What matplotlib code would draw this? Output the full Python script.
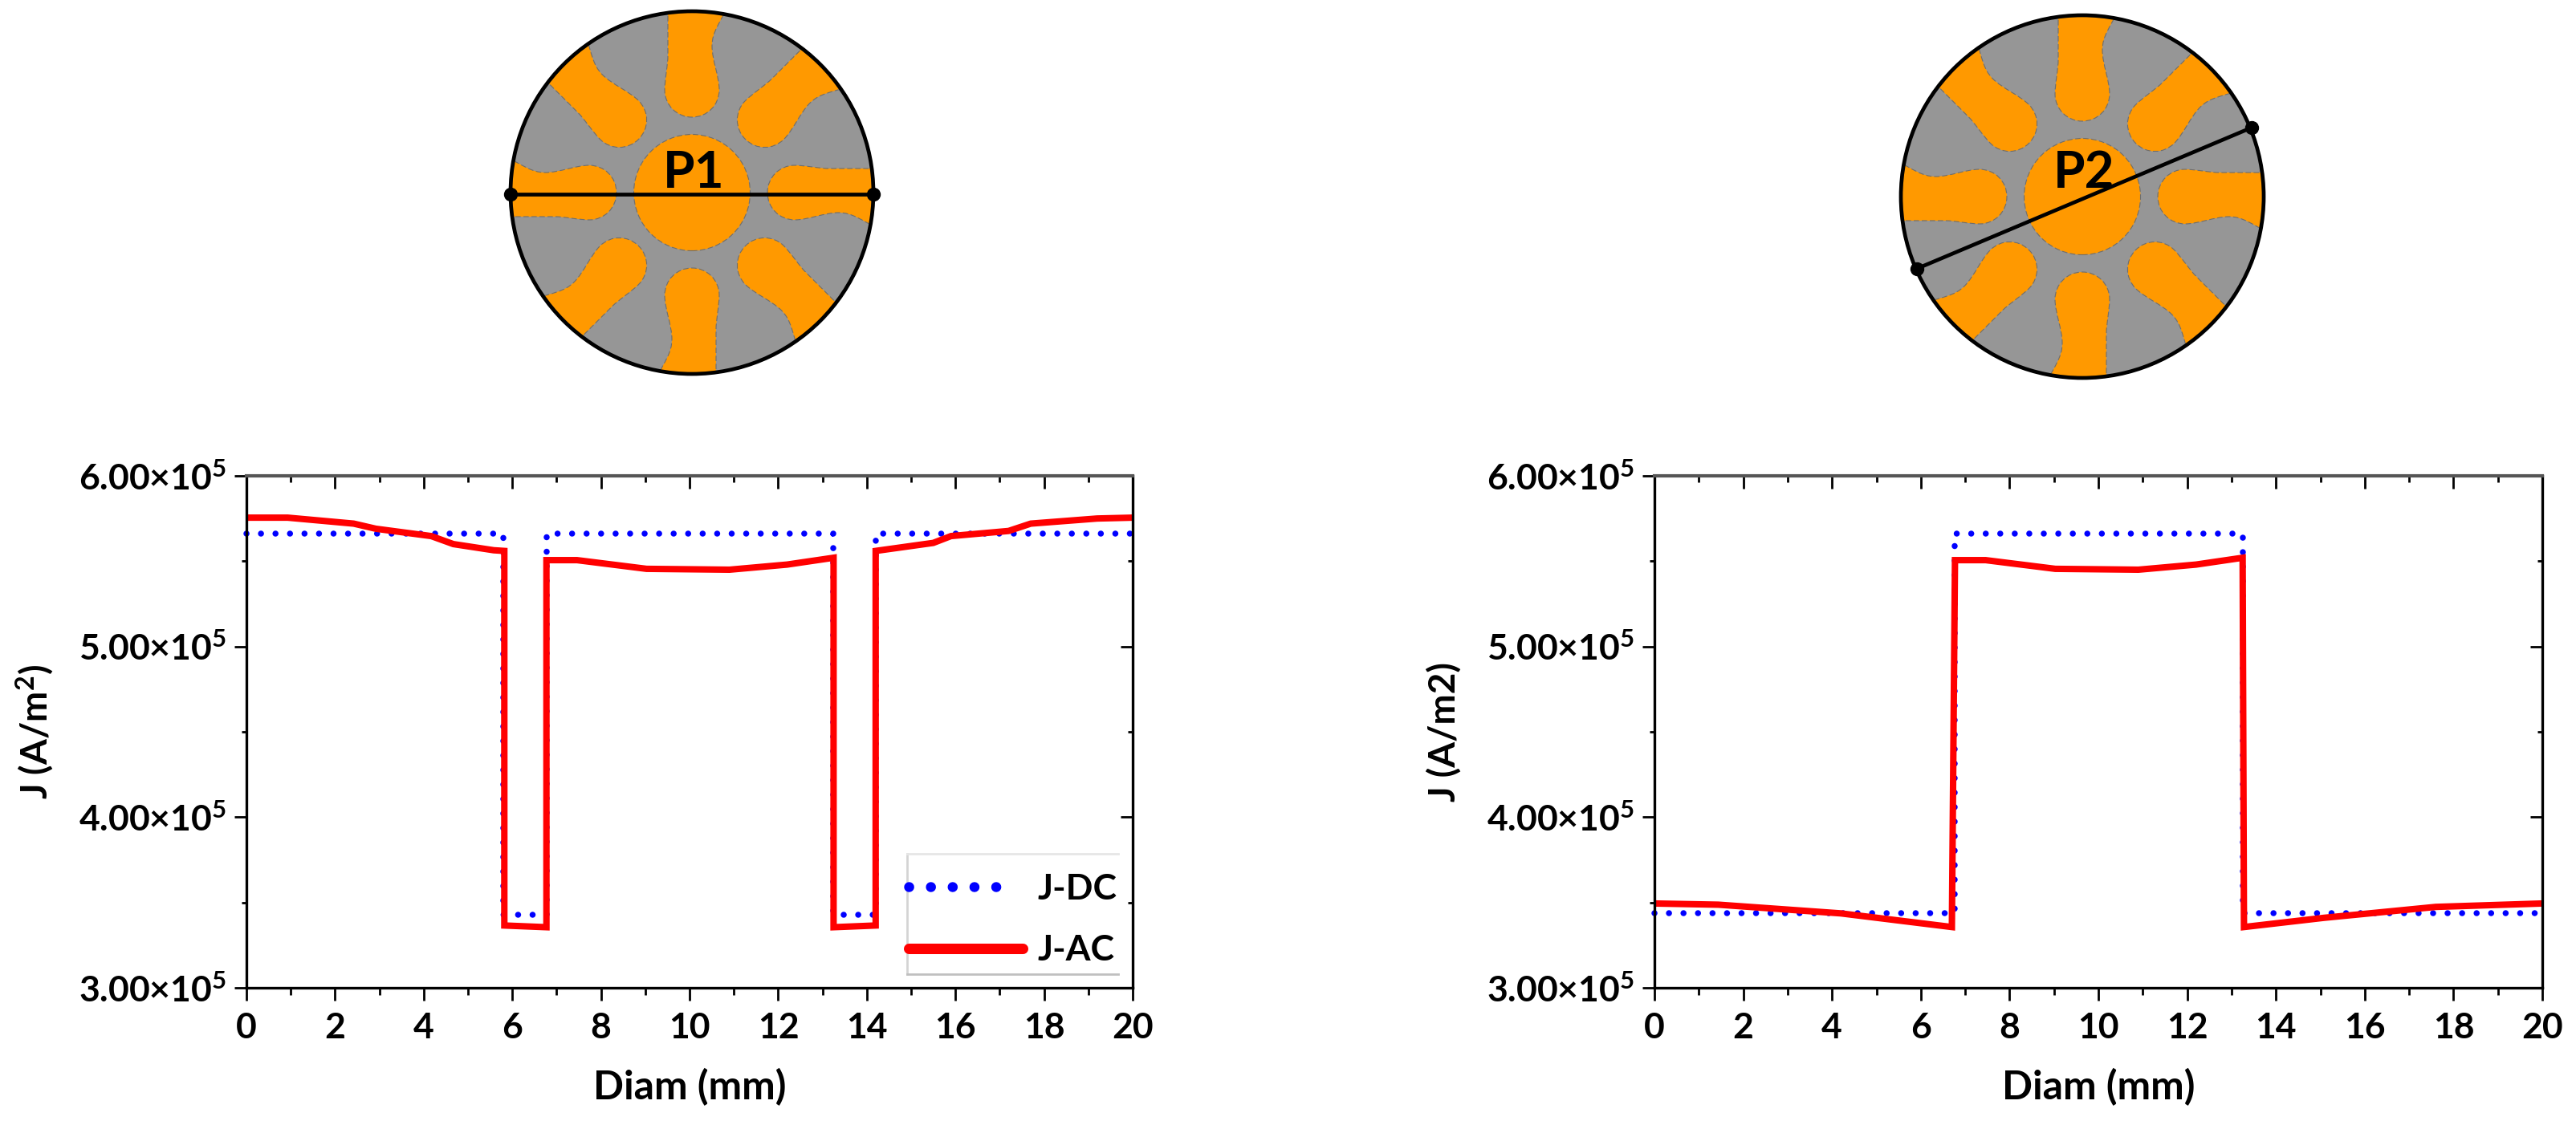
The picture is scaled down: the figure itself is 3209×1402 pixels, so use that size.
import numpy as np
import matplotlib
matplotlib.use('Agg')
import matplotlib.pyplot as plt
from matplotlib.lines import Line2D
from matplotlib.path import Path
from matplotlib.patches import Circle, PathPatch
from matplotlib.transforms import Affine2D

W, H = 3209, 1402
FONT = 'Lato'

# left chart, path P1
p1_dc_x = [0, 5.8, 5.8, 6.77, 6.77, 13.25, 13.25, 14.2, 14.2, 20]
p1_dc_y = [5.66, 5.66, 3.43, 3.43, 5.66, 5.66, 3.43, 3.43, 5.66, 5.66]
p1_ac_x = [0, 0.93, 2.42, 2.92, 4.17, 4.67, 5.58, 5.82, 5.82, 6.77, 6.77, 7.46, 9.03,
           10.9, 12.2, 13.25, 13.25, 14.2, 14.2, 15.5, 15.9, 17.2, 17.7, 19.2, 20]
p1_ac_y = [5.755, 5.755, 5.72, 5.69, 5.647, 5.60, 5.564, 5.56, 3.365, 3.355, 5.506, 5.506, 5.455,
           5.45, 5.48, 5.52, 3.355, 3.365, 5.56, 5.607, 5.647, 5.677, 5.72, 5.75, 5.755]

# right chart, path P2
p2_dc_x = [0, 6.77, 6.77, 13.25, 13.25, 20]
p2_dc_y = [3.436, 3.436, 5.66, 5.66, 3.436, 3.436]
p2_ac_x = [0, 1.44, 4.2, 6.7, 6.77, 7.46, 9.03, 10.9, 12.2, 13.25, 13.28, 15.08, 17.6, 20]
p2_ac_y = [3.494, 3.487, 3.436, 3.356, 5.506, 5.506, 5.455, 5.45, 5.48, 5.52, 3.356, 3.41, 3.474, 3.494]

x_major = np.arange(0, 21, 2)
x_minor = np.arange(1, 20, 2)
y_major = [3, 4, 5, 6]
y_minor = [3.5, 4.5, 5.5]
y_labels = ['3.00×10$^{5}$', '4.00×10$^{5}$', '5.00×10$^{5}$', '6.00×10$^{5}$']

# outline of one rotor slot, lateral / radial distance from centre in pixels
slot_verts = [(-30, 240), (-30, 170), (-30, 160), (-34, 140), (-34, 128),
              (-34, 109), (-19, 94), (0, 94), (19, 94), (34, 109), (34, 128),
              (34, 145), (25, 165), (25, 183), (25, 200), (35, 212), (45, 232), (45, 240)]
slot_codes = [Path.MOVETO, Path.LINETO, Path.CURVE4, Path.CURVE4, Path.CURVE4,
              Path.CURVE4, Path.CURVE4, Path.CURVE4, Path.CURVE4, Path.CURVE4, Path.CURVE4,
              Path.CURVE4, Path.CURVE4, Path.CURVE4, Path.CURVE4, Path.CURVE4, Path.CURVE4, Path.LINETO]

ORANGE = '#FF9900'
GREY = '#969696'

plt.rcParams['font.family'] = [FONT, 'DejaVu Sans']
plt.rcParams['font.weight'] = 'bold'
plt.rcParams['mathtext.default'] = 'regular'


def px_axes(fig, x0, y0, x1, y1):
    # box given in image pixels, y from the top
    return fig.add_axes([x0 / W, 1 - y1 / H, (x1 - x0) / W, (y1 - y0) / H])


def draw_rotor(fig, cx, cy, ends, label):
    r = 226
    pad = 20
    ax = px_axes(fig, cx - r - pad, cy - r - pad, cx + r + pad, cy + r + pad)
    ax.set_xlim(-r - pad, r + pad)
    ax.set_ylim(-r - pad, r + pad)
    ax.axis('off')
    ax.add_patch(Circle((0, 0), r, fc=GREY, ec='none'))
    clip = Circle((0, 0), r, transform=ax.transData)
    for i in range(8):
        rot = Affine2D().rotate_deg(-45 * i)
        patch = PathPatch(Path(slot_verts, slot_codes), fc=ORANGE, ec='#6e6e6e', lw=0.8, ls=(0, (6, 3)),
                          transform=rot + ax.transData)
        ax.add_patch(patch)
        patch.set_clip_path(clip)
    ax.add_patch(Circle((0, 0), 72.5, fc=ORANGE, ec='#6e6e6e', lw=0.8, ls=(0, (6, 3))))
    ax.add_patch(Circle((0, 0), r, fc='none', ec='black', lw=3.4))
    ax.plot([ends[0][0] - cx, ends[1][0] - cx], [cy - ends[0][1], cy - ends[1][1]], color='black', lw=3.4,
            marker='o', ms=11.5, clip_on=False)
    ax.text(2, cy - 216, label, ha='center', va='center', fontsize=46, fontweight='bold', color='black')


def draw_chart(fig, box, dc, ac, ylabel, ylabel_x):
    ax = px_axes(fig, *box)
    ax.plot(dc[0], dc[1], color='#0000FF', lw=5.4, ls=(0, (0.01, 2.4)), dash_capstyle='round', clip_on=False)
    ax.plot(ac[0], ac[1], color='#FF0000', lw=5.8, solid_joinstyle='miter', solid_capstyle='butt')
    ax.set_xlim(0, 20)
    ax.set_ylim(3, 6)
    ax.set_xticks(x_major)
    ax.set_xticks(x_minor, minor=True)
    ax.set_yticks(y_major, y_labels)
    ax.set_yticks(y_minor, minor=True)
    ax.tick_params(axis='x', which='major', direction='out', length=11.5, width=2, labelsize=32, pad=10)
    ax.tick_params(axis='x', which='minor', direction='out', length=6.5, width=2)
    ax.tick_params(axis='y', which='major', direction='out', length=10.8, width=2, labelsize=32, pad=7)
    ax.tick_params(axis='y', which='minor', direction='out', length=4.5, width=2)
    for side in ax.spines:
        ax.spines[side].set_linewidth(2.4)
    ax.spines['top'].set_color('#555555')
    ax.spines['top'].set_linewidth(3)

    # top and right sides have their ticks inside
    top = ax.secondary_xaxis('top')
    top.set_xticks(x_major)
    top.set_xticks(x_minor, minor=True)
    top.tick_params(axis='x', which='major', direction='in', length=11.5, width=2, labeltop=False)
    top.tick_params(axis='x', which='minor', direction='in', length=6, width=2)
    right = ax.secondary_yaxis('right')
    right.set_yticks(y_major)
    right.set_yticks(y_minor, minor=True)
    right.tick_params(axis='y', which='major', direction='in', length=10.8, width=2, labelright=False)
    right.tick_params(axis='y', which='minor', direction='in', length=4.5, width=2)

    ax.set_xlabel('Diam (mm)', fontsize=36, fontweight='bold')
    ax.xaxis.set_label_coords(0.5, -(1370 - box[3]) / (box[3] - box[1]), transform=ax.transAxes)
    ax.xaxis.label.set_va('baseline')
    ax.set_ylabel(ylabel, fontsize=33, fontweight='bold')
    ax.yaxis.set_label_coords((ylabel_x - box[0]) / (box[2] - box[0]), 0.5, transform=ax.transAxes)
    ax.yaxis.label.set_va('baseline')
    return ax


fig = plt.figure(figsize=(W / 100, H / 100), dpi=100, facecolor='white')

draw_rotor(fig, 862, 240, [(636, 241.5), (1088, 241.5)], 'P1')
draw_rotor(fig, 2594, 245, [(2387.5, 335), (2805, 159)], 'P2')

left_box = (307, 593, 1411, 1231)
right_box = (2061, 593, 3167, 1231)
ax1 = draw_chart(fig, left_box, (p1_dc_x, p1_dc_y), (p1_ac_x, p1_ac_y), 'J (A/m$^{2}$)', 60)
ax2 = draw_chart(fig, right_box, (p2_dc_x, p2_dc_y), (p2_ac_x, p2_ac_y), 'J (A/m2)', 1813)

# legend box has no right edge in the reference, frame drawn by hand
lx0, lx1 = (1130 - 307) / 1104, (1393 - 307) / 1104
ly0, ly1 = (1231 - 1214) / 638, (1231 - 1064) / 638
ax1.plot([lx0, lx0], [ly0, ly1], color='#d4d4d4', lw=2, transform=ax1.transAxes)
ax1.plot([lx0, lx1], [ly1, ly1], color='#e6e6e6', lw=2, transform=ax1.transAxes)
ax1.plot([lx0, lx1], [ly0, ly0], color='#c0c0c0', lw=2, transform=ax1.transAxes)
# legend keys are drawn heavier than the curves, the dotted one shows five dots
dc_key = Line2D([], [], color='#0000FF', lw=9,
                ls=(0, (0.01, 2.16, 0.01, 2.16, 0.01, 2.16, 0.01, 2.16, 0.01, 20)), dash_capstyle='round')
ac_key = Line2D([], [], color='#FF0000', lw=9.4, solid_capstyle='round')
ax1.legend([dc_key, ac_key], ['J-DC', 'J-AC'], loc='center left',
           bbox_to_anchor=(lx0 + 0.002, (ly0 + ly1) / 2 - 0.011), frameon=False, fontsize=32,
           borderaxespad=0, borderpad=0, handlelength=3.2, handletextpad=0.4, labelspacing=0.82)

fig.savefig('out.png', dpi=100)
